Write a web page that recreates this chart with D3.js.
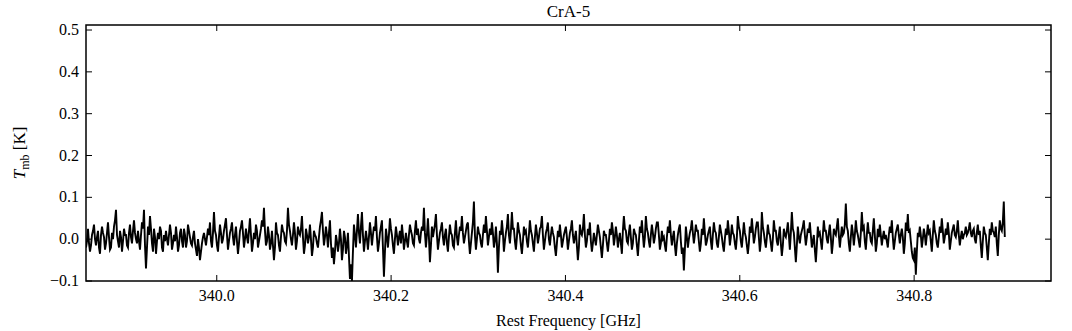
<!DOCTYPE html>
<html><head><meta charset="utf-8">
<script src="https://cdn.jsdelivr.net/npm/d3@7"></script>
<style>
body{margin:0;background:#fff;}
text{font-family:"Liberation Serif","DejaVu Serif",serif;fill:#000;}
</style></head>
<body><svg id="c" width="1072" height="331"></svg>
<script>
// ---- data ----
const title = "CrA-5";
const xLabel = "Rest Frequency [GHz]";
const freqStart = 339.85;     // GHz, first channel
const freqEnd = 340.904;      // GHz, last channel
const xTicks = [340.0, 340.2, 340.4, 340.6, 340.8];
const yTicks = [-0.1, 0.0, 0.1, 0.2, 0.3, 0.4, 0.5];
// main-beam temperature per channel, in mK
const tmbMilliK = [
 -20,-5,25,-10,-30,-15,10,20,35,0,-15,5,20,-20,-35,10,30,15,5,-25,-10,15,40,5,-25,-20,15,0,30,45,70,10,-5,-20,20,5,-30,-5,25,10,
 10,-15,-20,15,35,5,-10,20,45,15,0,-10,20,-5,-25,10,40,25,70,-15,-70,-20,30,10,55,25,-10,-30,25,5,-35,-5,15,0,30,20,-20,-30,10,-5,
 20,0,-15,10,35,15,-25,-10,10,-5,30,5,-30,-15,15,25,-5,-20,25,10,-20,-5,35,20,5,-10,-15,5,20,-10,-25,-40,0,-20,-50,-30,-10,5,15,0,
 -15,5,25,10,40,-5,-20,15,65,20,10,-15,-30,5,35,15,-10,0,20,35,50,10,-25,-5,15,25,40,5,-15,10,30,-5,-35,-10,20,30,45,15,-20,0,
 25,5,-10,20,50,10,-30,-10,15,0,35,20,-20,-5,10,25,45,30,75,20,-15,-5,30,10,-25,-10,20,-15,-50,-20,40,15,10,-15,-30,5,35,20,15,-5,
 -10,20,75,35,20,0,-15,10,40,15,-25,-5,30,15,10,25,55,5,-35,-15,25,10,-10,5,35,0,-40,-20,20,10,5,-10,-20,5,30,45,65,20,-15,5,
 30,10,-20,15,45,-10,-45,-20,-60,-30,10,-5,-30,-10,25,0,-50,-25,20,5,-35,-15,15,-40,-95,-60,-100,-30,35,10,-20,20,60,15,-10,30,65,10,-30,-5,
 20,0,-25,5,40,15,-15,10,30,20,55,5,-30,-10,15,30,45,-20,-90,-30,25,5,-20,10,50,25,10,-15,-35,0,30,10,-15,5,20,-10,35,10,-25,-5,
 15,-5,-20,10,35,20,10,-10,-15,20,45,10,25,0,-10,15,30,20,75,15,-20,10,50,5,-55,-15,30,5,20,35,60,10,-25,-5,15,25,40,5,-15,10,
 25,-10,-30,5,35,15,10,-15,-20,15,45,5,-15,10,30,20,55,15,-10,5,20,35,40,-5,-35,-10,15,40,90,10,-25,0,30,15,10,-10,-20,10,35,15,
 55,20,-15,5,25,10,40,15,-20,-5,30,-10,-80,-20,20,10,45,15,-30,-5,15,30,60,10,-10,20,65,25,25,-5,-25,5,40,20,10,-15,-35,-5,30,15,
 20,-5,-20,10,45,20,10,-10,-30,5,35,15,-10,5,25,30,55,10,-25,-5,15,25,40,0,-15,10,30,15,5,-20,-40,-10,20,5,35,10,-20,-5,10,20,
 30,5,-25,-5,15,25,45,10,-10,5,20,-15,-50,-20,35,15,10,25,60,10,-20,-5,25,10,40,-5,-30,-10,15,0,-15,10,35,20,5,-20,-45,-15,20,10,
 10,-10,-30,-5,25,10,40,20,-15,5,30,10,-20,0,15,-10,-35,20,55,25,20,-5,-10,15,35,5,-25,-10,25,15,10,-15,-40,-5,30,15,45,10,-20,5,
 55,25,15,-5,-20,10,35,15,-10,5,25,40,40,10,-25,-10,20,0,5,-15,-30,5,30,15,45,10,-15,5,20,-15,-40,-10,10,25,35,-5,-35,-20,-75,-25,
 30,5,-20,0,15,25,45,15,-10,10,35,20,20,-5,-30,-10,25,10,50,15,-15,-5,10,20,30,-5,-25,10,40,20,15,-10,-20,5,35,20,5,-15,-30,0,
 25,10,45,20,-15,5,35,15,10,-10,-25,5,55,30,20,-5,-20,10,40,15,5,-15,-35,-10,30,15,50,20,-10,5,25,40,40,5,-30,-5,65,30,15,-5,
 -20,5,35,15,10,-10,-30,0,45,20,20,-5,-15,10,30,-10,-40,-15,25,10,5,20,40,10,-25,15,65,25,15,-20,-55,-15,30,5,-10,10,20,30,45,10,
 -15,5,25,15,40,10,-20,-5,10,-25,-55,-15,30,10,15,-5,-25,10,45,20,20,0,-10,15,35,5,-35,-10,25,15,10,30,50,10,-20,5,30,10,15,35,
 85,30,20,-10,-30,5,35,15,-15,10,45,20,10,-5,-20,15,65,25,30,-5,-25,10,40,15,15,-5,-10,20,50,10,-30,-10,25,5,35,10,-15,5,20,0,
 10,-5,-20,10,30,15,45,5,-25,-5,15,25,35,10,-10,10,25,5,-35,-10,40,20,60,15,20,-5,-30,-45,-50,-20,-85,-30,15,5,30,10,-20,0,25,10,
 -15,10,35,15,20,-5,-30,10,45,20,10,-10,-20,5,30,15,50,20,-10,5,25,10,40,15,-25,-5,15,25,35,10,5,20,45,10,-15,5,20,0,10,15,
 30,10,15,25,40,15,5,20,25,0,-10,15,35,10,20,-15,-45,-5,30,15,10,-20,-50,-10,25,10,40,20,15,5,30,-10,-40,10,45,25,20,40,90,5
];

// ---- chart ----
const m = {left: 86, right: 1051, top: 25, bottom: 281};
const svg = d3.select("#c");
const step = (freqEnd - freqStart) / (tmbMilliK.length - 1);
const pts = tmbMilliK.map((v, i) => [freqStart + i * step, v / 1000]);

const x = d3.scaleLinear().domain([339.85, 340.957]).range([m.left, m.right]);
const y = d3.scaleLinear().domain([-0.1, 0.512]).range([m.bottom, m.top]);

const fmtY = d => (d < 0 ? "\u2212" : "") + Math.abs(d).toFixed(1);
const tk = 6;

// data line (clipped to the frame)
svg.append("clipPath").attr("id", "clip").append("rect")
  .attr("x", m.left).attr("y", m.top).attr("width", m.right - m.left).attr("height", m.bottom - m.top);
svg.append("path")
  .datum(pts)
  .attr("clip-path", "url(#clip)")
  .attr("fill", "none")
  .attr("stroke", "#000")
  .attr("stroke-width", 1.9)
  .attr("d", d3.line().x(d => x(d[0])).y(d => y(d[1])));

// ticks (inward, all four sides)
const g = svg.append("g").attr("stroke", "#000").attr("stroke-width", 1);
xTicks.forEach(t => {
  g.append("line").attr("x1", x(t)).attr("x2", x(t)).attr("y1", m.bottom).attr("y2", m.bottom - tk);
  g.append("line").attr("x1", x(t)).attr("x2", x(t)).attr("y1", m.top).attr("y2", m.top + tk);
});
yTicks.forEach(t => {
  g.append("line").attr("x1", m.left).attr("x2", m.left + tk).attr("y1", y(t)).attr("y2", y(t));
  g.append("line").attr("x1", m.right).attr("x2", m.right - tk).attr("y1", y(t)).attr("y2", y(t));
});

// frame
svg.append("rect").attr("x", m.left).attr("y", m.top)
  .attr("width", m.right - m.left).attr("height", m.bottom - m.top)
  .attr("fill", "none").attr("stroke", "#000").attr("stroke-width", 1.5);

// tick labels
svg.append("g").selectAll("text").data(xTicks).join("text")
  .attr("x", d => x(d)).attr("y", m.bottom + 20)
  .attr("text-anchor", "middle").attr("font-size", 16)
  .text(d => d.toFixed(1));
svg.append("g").selectAll("text").data(yTicks).join("text")
  .attr("x", m.left - 7).attr("y", d => y(d) + 5)
  .attr("text-anchor", "end").attr("font-size", 16)
  .text(fmtY);

// titles
svg.append("text").attr("x", (m.left + m.right) / 2).attr("y", 17)
  .attr("text-anchor", "middle").attr("font-size", 17).text(title);
svg.append("text").attr("x", (m.left + m.right) / 2).attr("y", 326)
  .attr("text-anchor", "middle").attr("font-size", 16).text(xLabel);
const yl = svg.append("text")
  .attr("transform", `translate(25,${(m.top + m.bottom) / 2}) rotate(-90)`)
  .attr("text-anchor", "middle").attr("font-size", 17);
yl.append("tspan").attr("font-style", "italic").text("T");
yl.append("tspan").attr("font-size", 12).attr("dy", 4).text("mb");
yl.append("tspan").attr("dy", -4).text(" [K]");
</script></body></html>
